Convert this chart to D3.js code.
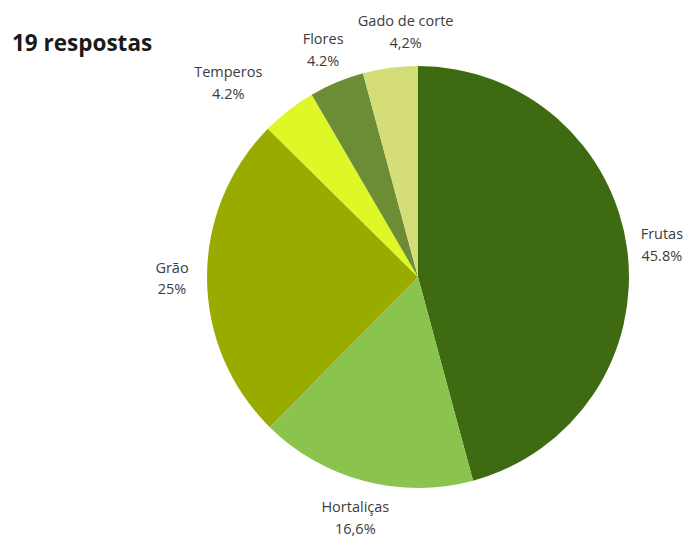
<!DOCTYPE html>
<html>
<head>
<meta charset="utf-8">
<script src="https://cdn.jsdelivr.net/npm/d3@7"></script>
<style>
  html, body { margin: 0; padding: 0; background: #fff; }
  svg { display: block; }
</style>
</head>
<body>
<svg id="chart" width="687" height="537"></svg>
<script>
// Activity categories (clockwise from 12 o'clock) and their share of answers
const categories = ["Frutas", "Hortaliças", "Grão", "Temperos", "Flores", "Gado de corte"];
const shares = [45.8, 16.6, 25, 4.2, 4.2, 4.2];
const shareLabels = ["45.8%", "16,6%", "25%", "4.2%", "4.2%", "4,2%"];
const colors = ["#3e6b12", "#8bc34f", "#9aab00", "#def726", "#6c8c36", "#d5de76"];
const title = "19 respostas";

const svg = d3.select("#chart");
const cx = 418, cy = 277, radius = 211, labelRadius = 246;

// Nudges so the crowded labels of the thin slices don't collide
const labelNudge = { "Temperos": [-39, 0], "Gado de corte": [20, -1], "Hortaliças": [0, 3] };

svg.append("text")
  .attr("x", 12)
  .attr("y", 51)
  .attr("font-family", "'Open Sans', sans-serif")
  .attr("font-weight", 700)
  .attr("font-size", 22.5)
  .attr("fill", "#1a1a1a")
  .text(title);

const data = categories.map((c, i) => ({ name: c, value: shares[i], label: shareLabels[i], color: colors[i] }));

const pie = d3.pie().sort(null).value(d => d.value);
const arc = d3.arc().innerRadius(0).outerRadius(radius);
const labelArc = d3.arc().innerRadius(labelRadius).outerRadius(labelRadius);

const g = svg.append("g").attr("transform", `translate(${cx},${cy})`);
const arcs = pie(data);

g.selectAll("path.slice")
  .data(arcs)
  .join("path")
  .attr("class", "slice")
  .attr("d", arc)
  .attr("fill", d => d.data.color);

const labels = g.selectAll("text.lbl")
  .data(arcs)
  .join("text")
  .attr("class", "lbl")
  .attr("text-anchor", "middle")
  .attr("font-family", "'Open Sans', sans-serif")
  .attr("font-size", 14.5)
  .attr("fill", "#3c3c3c")
  .attr("transform", d => {
    const [x, y] = labelArc.centroid(d);
    const [nx, ny] = labelNudge[d.data.name] || [0, 0];
    return `translate(${x + nx},${y + ny})`;
  });

labels.append("tspan").attr("x", 0).attr("dy", "-0.4em").text(d => d.data.name);
labels.append("tspan").attr("x", 0).attr("dy", "1.5em").text(d => d.data.label);
</script>
</body>
</html>
